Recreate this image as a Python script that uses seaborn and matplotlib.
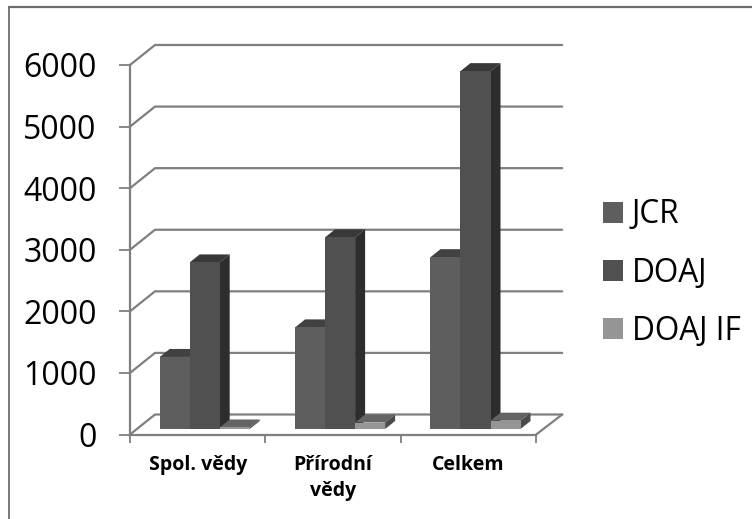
import pandas as pd
import matplotlib
matplotlib.use("Agg")
import matplotlib.pyplot as plt
import seaborn as sns
from matplotlib.lines import Line2D
from matplotlib.patches import Polygon

# Data
kategorie = ["Spol. vědy", "Přírodní\nvědy", "Celkem"]
jcr = [1170, 1650, 2790]
doaj = [2705, 3112, 5811]
doaj_if = [25, 105, 135]
serie = ["JCR", "DOAJ", "DOAJ IF"]
y_ticks = [0, 1000, 2000, 3000, 4000, 5000, 6000]

# Colours: front, top, side
front = ["#5e5e5e", "#505050", "#959595"]
top = ["#414141", "#383838", "#646464"]
side = ["#333333", "#2d2d2d", "#4b4b4b"]
line_col = "#7f7f7f"

W, H = 752, 519
PX_X = 135.4        # pixels per category
PX_Y = 369.5 / 6000 # pixels per value unit

sns.set_style("white")
plt.rcParams["font.family"] = ["Open Sans", "DejaVu Sans"]

df = pd.DataFrame({
    "kategorie": kategorie * 3,
    "serie": [s for s in serie for _ in kategorie],
    "hodnota": jcr + doaj + doaj_if,
})

fig = plt.figure(figsize=(W / 100, H / 100), dpi=100)
fig.patch.set_facecolor("white")

# Back walls, floor and axes
left, bottom, width = 130, H - 434.5, 3 * PX_X
ax = fig.add_axes([left / W, bottom / H, width / W, 369.5 / H])
ax.set_xlim(0, 3)
ax.set_ylim(0, 6000)
ax.patch.set_alpha(0)
sns.despine(ax=ax)
for name in ["left", "bottom"]:
    ax.spines[name].set_color(line_col)
    ax.spines[name].set_linewidth(1.6)

wall_dx = 25 / PX_X
wall_dy = 20 / PX_Y
for v in y_ticks:
    ax.add_line(Line2D([0, wall_dx, 3 + 26 / PX_X], [v, v + wall_dy, v + wall_dy],
                       color=line_col, lw=1.6, clip_on=False, zorder=1))
ax.add_line(Line2D([3, 3 + 26 / PX_X], [0, wall_dy], color=line_col, lw=1.6,
                   clip_on=False, zorder=1))

ax.set_yticks(y_ticks)
ax.set_yticklabels([str(v) for v in y_ticks], fontsize=23, color="black")
ax.tick_params(axis="y", length=8, width=1.3, color=line_col, pad=16, left=True)
ax.set_xticks([0, 1, 2, 3])
ax.set_xticklabels([])
ax.tick_params(axis="x", which="major", length=6, width=1.3, color=line_col, bottom=True)
ax.set_xticks([0.5, 1.5, 2.5], minor=True)
ax.set_xticklabels(kategorie, minor=True, fontsize=14, fontweight="bold", color="black",
                   linespacing=1.37)
ax.tick_params(axis="x", which="minor", length=0, pad=15)

# Bars sit a little behind the front plane
ax2 = fig.add_axes([(left + 7) / W, (bottom + 5.5) / H, width / W, 369.5 / H])
sns.barplot(data=df, x="kategorie", y="hodnota", hue="serie", hue_order=serie,
            palette=front, saturation=1, width=0.665, gap=0, order=kategorie,
            linewidth=0, ax=ax2, zorder=3)
ax2.set_xlim(-0.5, 2.5)
ax2.set_ylim(0, 6000)
ax2.patch.set_alpha(0)
ax2.set_axis_off()

dx = 10 / PX_X
dy = 8 / PX_Y
for i, cont in enumerate(ax2.containers):
    for bar in cont:
        x0, x1 = bar.get_x(), bar.get_x() + bar.get_width()
        h = bar.get_height()
        ax2.add_patch(Polygon([(x0, h), (x1, h), (x1 + dx, h + dy), (x0 + dx, h + dy)],
                              facecolor=top[i], edgecolor="none", clip_on=False, zorder=2.5))
        ax2.add_patch(Polygon([(x1, 0), (x1 + dx, dy), (x1 + dx, h + dy), (x1, h)],
                              facecolor=side[i], edgecolor="none", clip_on=False, zorder=2.5))

# Legend
handles, labels = ax2.get_legend_handles_labels()
ax2.get_legend().remove()
fig.legend(handles, labels, loc="upper left", bbox_to_anchor=(594 / W, 1 - 189 / H),
           frameon=False, fontsize=22.7, handlelength=0.63, handleheight=0.63,
           handletextpad=0.27, labelspacing=0.8, labelcolor="black",
           borderpad=0.3, borderaxespad=0)

# Chart frame: only the top and left edges are inside the picture
fig.add_artist(Line2D([9 / W, 1], [1 - 6.5 / H, 1 - 6.5 / H], color="#6e6e6e", lw=1.6))
fig.add_artist(Line2D([9 / W, 9 / W], [0, 1 - 6.5 / H], color="#6e6e6e", lw=1.3))

fig.savefig("out.png", dpi=100)
